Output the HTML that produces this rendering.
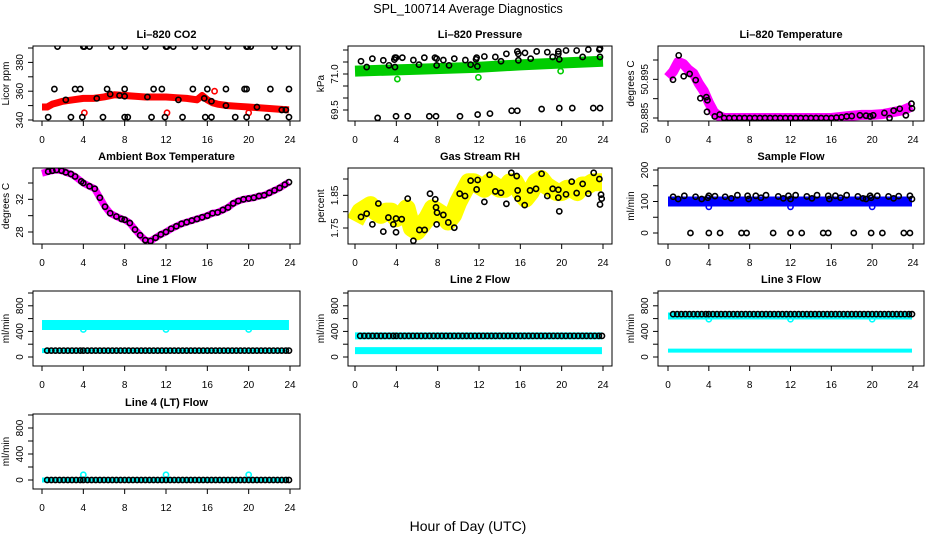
<!DOCTYPE html>
<html><head><meta charset="utf-8"><style>
html,body{margin:0;padding:0;background:#fff}
svg{display:block;font-family:"Liberation Sans",sans-serif}
</style></head><body>
<svg id="chart" width="936" height="540" viewBox="0 0 936 540" xmlns="http://www.w3.org/2000/svg">
<text x="468" y="13" font-size="12.5" text-anchor="middle">SPL_100714  Average Diagnostics</text>
<text x="468" y="531" font-size="14" text-anchor="middle">Hour of Day (UTC)</text>
</svg>
<script>
// ---------- data ----------
const xTicks=[0,4,8,12,16,20,24];
const ringHours=[0.5,0.9,1.3,1.7,2.1,2.5,2.9,3.3,3.7,4.0,4.4,4.8,5.2,5.6,6.0,6.4,6.8,7.2,7.6,8.0,8.4,8.8,9.2,9.6,10.0,10.4,10.8,11.2,11.6,12.0,12.4,12.8,13.2,13.6,14.0,14.4,14.8,15.2,15.6,16.0,16.4,16.8,17.2,17.6,18.0,18.4,18.8,19.2,19.6,20.0,20.4,20.8,21.2,21.6,22.0,22.4,22.8,23.2,23.6,23.9];

// CO2
const co2BandH=[0,0.5,1,1.5,2,3,4,5,6,7,8,9,10,11,12,13,14,15,15.5,16,16.5,17,18,19,20,21,22,23,23.9];
const co2BandV=[349,349,351,352,353,354,355,355,356,357.5,357,356.5,356,356,356,355.5,355,354,357,354,352,351,350,349.5,349,348.5,348,347.5,347];
const co2TopH=[1.5,4,4.1,4.6,6.7,8,10,12,12.1,12.7,14.8,16,18,19.8,19.9,20.2,22.5,23.9];
const co2MidH=[1.2,3.2,3.7,6.3,8,10.8,11.6,14.6,16,17.8,19.6,19.8,22.1,23.9];
const co2LowH=[0.6,2.8,3.9,5.9,8,8.3,10.6,11.9,13.6,15.8,16.4,18.7,19.8,21.8,23.9];
const co2OnH=[2.3,5.3,6.6,7.5,8,10.2,13.2,15.7,16.4,17.8,20.8,23.2,23.6];
const co2OnV=[354,355,358,357,356.5,356,354,355,353,350,349,347,347];
const co2RedH=[4.1,12.1,16.7,20];
const co2RedV=[345,345,360,345];

// Pressure
const presBandH=[0,6,12,16,20,24];
const presBandV=[71.12,71.2,71.28,71.38,71.46,71.53];
const presPtH=[0.58,1.13,1.68,2.74,3.29,3.81,3.87,3.87,3.97,4.58,5.65,6.19,6.71,7.74,7.9,7.9,8.55,9.1,9.61,10.68,11.19,11.71,11.77,11.84,12.52,13.58,14.13,14.65,15.71,15.81,15.81,16.45,17.0,17.58,18.61,19.13,19.68,19.68,19.77,20.42,21.45,22.03,22.58,23.65,23.71,23.71,
 2.19,3.97,5.1,7.19,7.84,10.16,11.87,13.06,15.16,15.71,18.06,19.77,21.03,23.06,23.71];
const presPtV=[71.53,71.29,71.64,71.57,71.36,71.6,71.68,71.29,71.68,71.68,71.58,71.39,71.68,71.68,71.64,71.36,71.58,71.36,71.64,71.58,71.39,71.61,71.68,71.32,71.73,71.71,71.53,71.84,71.94,71.84,71.57,71.88,71.64,71.94,71.91,71.71,71.94,71.84,71.61,71.98,71.98,71.71,72.02,72.02,72.07,71.71,
 69.17,69.24,69.24,69.24,69.24,69.24,69.31,69.35,69.47,69.47,69.54,69.58,69.58,69.58,69.58];
const presGreenH=[4.1,11.94,19.9];
const presGreenV=[70.79,70.86,71.12];

// Li-820 temperature
const tempBandH=[0,0.5,1,1.5,2,2.5,3,3.5,4,4.5,5,5.5,16,17,18,19,20,21,22,23,23.9];
const tempBandV=[50.8955,50.897,50.8995,50.899,50.8975,50.8965,50.894,50.892,50.889,50.8865,50.8855,50.885,50.885,50.8853,50.8856,50.8858,50.8858,50.886,50.8865,50.887,50.888];
const tempPtH=[0.49,1.05,1.54,2.12,2.71,3.17,3.76,3.86,3.82,4.58,5.07,5.5,6,6.5,7,7.5,8,8.5,9,9.5,10,10.5,11,11.5,12,12.5,13,13.5,14,14.5,15,15.5,16,16.5,17,17.5,18,18.8,19.4,19.8,20.1,21.2,21.7,22.1,22.7,23.3,23.85,23.9];
const tempPtV=[50.8949,50.9012,50.8958,50.8964,50.8948,50.8901,50.8904,50.8896,50.8866,50.8854,50.8859,50.885,50.885,50.885,50.885,50.885,50.885,50.885,50.885,50.885,50.885,50.885,50.885,50.885,50.885,50.885,50.885,50.885,50.885,50.885,50.885,50.885,50.885,50.8851,50.8852,50.8854,50.8855,50.8857,50.8856,50.8854,50.8857,50.8863,50.885,50.8869,50.8874,50.8857,50.8887,50.8875];

// Ambient box temperature
const ambH=[0,0.6,1.0,1.4,1.9,2.3,2.8,3.2,3.8,4.0,4.6,5.1,5.6,6.1,6.6,7.2,7.7,8.0,8.5,9.0,9.5,10.0,10.5,11.0,11.5,12.0,12.5,13.0,13.5,14.0,14.5,15.0,15.5,16.0,16.5,17.0,17.5,18.0,18.5,19.0,19.5,20.0,20.5,21.0,21.5,22.0,22.5,23.0,23.5,23.9];
const ambV=[35.2,35.4,35.5,35.6,35.5,35.3,35.1,34.8,34.2,34.0,33.6,33.3,32.2,31.1,30.3,29.9,29.6,29.5,29.1,28.3,27.6,27.0,26.9,27.3,27.7,28.0,28.4,28.7,29.0,29.2,29.4,29.6,29.8,30.0,30.3,30.4,30.7,31.0,31.5,31.8,32.0,32.1,32.2,32.4,32.5,32.8,33.1,33.4,33.8,34.1];

// Gas stream RH
const rhBandH=[0,0.5,1,1.5,2,2.5,3,3.5,4,4.5,5,5.5,6,6.5,7,7.5,8,8.5,9,9.5,10,10.5,11,11.5,12,12.5,13,13.5,14,14.5,15,15.5,16,16.5,17,17.5,18,18.5,19,19.5,20,20.5,21,21.5,22,22.5,23,23.5,23.9];
const rhBandV=[1.77,1.8,1.81,1.82,1.8,1.79,1.8,1.8,1.78,1.79,1.81,1.75,1.74,1.76,1.78,1.81,1.8,1.79,1.77,1.79,1.83,1.86,1.89,1.89,1.88,1.87,1.89,1.88,1.87,1.87,1.89,1.89,1.86,1.84,1.86,1.89,1.9,1.88,1.87,1.86,1.86,1.87,1.87,1.86,1.88,1.88,1.89,1.89,1.89];
const rhPtH=[0.58,1.13,1.68,2.26,2.74,3.23,3.71,3.97,3.97,4.52,5.1,5.65,6.23,6.74,7.26,7.77,7.84,7.94,7.9,8.55,9.03,9.61,10.13,10.65,11.19,11.77,11.87,12.52,13.03,13.58,14.13,14.65,15.13,15.65,15.74,15.74,16.42,16.94,17.52,18.06,18.61,19.13,19.68,19.68,19.77,20.42,20.97,21.45,22.03,22.58,23.1,23.65,23.81,23.71,23.87];
const rhPtV=[1.784,1.794,1.761,1.825,1.739,1.782,1.761,1.779,1.737,1.777,1.84,1.711,1.744,1.744,1.855,1.838,1.813,1.797,1.761,1.79,1.767,1.751,1.855,1.848,1.895,1.868,1.897,1.83,1.913,1.862,1.858,1.824,1.919,1.909,1.865,1.84,1.82,1.865,1.87,1.916,1.848,1.87,1.867,1.843,1.801,1.853,1.892,1.857,1.885,1.855,1.919,1.9,1.852,1.822,1.84];

// Sample flow
const sfTopH=[0.5,1.0,1.6,2.7,3.3,3.9,4.0,4.6,5.6,6.2,6.8,7.8,7.9,8.6,9.1,9.6,10.8,11.3,11.8,12.0,12.5,13.6,14.1,14.6,15.7,15.8,16.4,16.9,17.5,18.6,19.1,19.4,19.8,19.9,20.5,21.6,22.1,22.6,23.7,23.9];
const sfTopV=[115,108,118,115,108,112,118,117,115,110,120,118,108,118,112,120,116,110,118,108,120,116,110,120,118,108,118,112,120,116,110,108,118,112,118,116,110,117,118,108];
const sfZeroH=[2.2,4.0,5.1,7.2,7.7,10.3,12.0,13.1,15.2,15.7,18.2,19.9,21.0,23.1,23.7];
const sfBlueH=[4,12,20];
const sfBlueV=[83,83,83];

// Line flows (cyan band levels and black ring level)
const l1BandV=[500,100];  const l1RingV=100; const l1OutV=430;
const l2BandV=[330,100];  const l2RingV=330; const l2OutV=330;
const l3BandV=[640,100];  const l3RingV=670; const l3OutV=590;
const l4BandV=[0,0];      const l4RingV=0;   const l4OutV=80;
const outH=[4,12,20];

// ---------- drawing ----------
const NS='http://www.w3.org/2000/svg';
const svg=document.getElementById('chart');
function mk(tag,attrs,parent){const e=document.createElementNS(NS,tag);for(const k in attrs)e.setAttribute(k,attrs[k]);(parent||svg).appendChild(e);return e;}

function panel(cfg){
  const g=mk('g',{});
  
  
  const sx=h=>cfg.x0+(h-0)*(cfg.x24-cfg.x0)/24;
  const sy=v=>cfg.p1+(v-cfg.v1)*(cfg.p2-cfg.p1)/(cfg.v2-cfg.v1);
  const clipId='clip-'+cfg.name;
  const cp=mk('clipPath',{id:clipId},g);
  mk('rect',{x:cfg.l,y:cfg.t,width:cfg.r-cfg.l,height:cfg.b-cfg.t},cp);
  const plot=mk('g',{'clip-path':'url(#'+clipId+')'},g);
  
  
  const t=mk('text',{x:(cfg.l+cfg.r)/2,y:cfg.t-8,'font-size':11,'font-weight':'bold','text-anchor':'middle'},g);
  
  
  t.textContent=cfg.title;
  const bx=mk('rect',{x:cfg.l,y:cfg.t,width:cfg.r-cfg.l,height:cfg.b-cfg.t,fill:'none',stroke:'#000','stroke-width':1},g);
  
  
  const xa=mk('g',{},g);
  
  
  mk('line',{x1:sx(xTicks[0]),x2:sx(xTicks[xTicks.length-1]),y1:cfg.b,y2:cfg.b,stroke:'#000'},xa);
  xTicks.forEach(h=>{
    mk('line',{x1:sx(h),x2:sx(h),y1:cfg.b,y2:cfg.b+5,stroke:'#000'},xa);
    const tx=mk('text',{x:sx(h),y:cfg.b+22,'font-size':10,'text-anchor':'middle'},xa);
    
    
    tx.textContent=h;
  });
  const ya=mk('g',{},g);
  
  
  const tv=cfg.ticks;
  mk('line',{x1:cfg.l,x2:cfg.l,y1:sy(tv[0]),y2:sy(tv[tv.length-1]),stroke:'#000'},ya);
  tv.forEach(v=>mk('line',{x1:cfg.l-5,x2:cfg.l,y1:sy(v),y2:sy(v),stroke:'#000'},ya));
  cfg.labels.forEach(v=>{
    const x=cfg.l-10, y=sy(v);
    const tx=mk('text',{x:x,y:y,'font-size':10,'text-anchor':'middle',transform:`rotate(-90 ${x} ${y})`},ya);
    
    
    tx.textContent=cfg.fmt?cfg.fmt(v):v;
  });
  const yx=cfg.l-24, yy=(cfg.t+cfg.b)/2;
  const yl=mk('text',{x:yx,y:yy,'font-size':10,'text-anchor':'middle',transform:`rotate(-90 ${yx} ${yy})`},g);
  
  
  yl.textContent=cfg.ylab;
  return {plot,sx,sy};
}
function band(P,hs,vs,color,w,name){
  const pl=mk('polyline',{points:hs.map((h,i)=>P.sx(h)+','+P.sy(vs[i])).join(' '),fill:'none',stroke:color,'stroke-width':w,'stroke-linejoin':'round','stroke-linecap':'butt'},P.plot);
  
  
}
function pts(P,hs,vs,color,name){
  const g=mk('g',{},P.plot);
  
  
  hs.forEach((h,i)=>{
    const v=Array.isArray(vs)?vs[i]:vs;
    mk('circle',{cx:P.sx(h),cy:P.sy(v),r:2.6,fill:'none',stroke:color,'stroke-width':1.6},g);
  });
}
const C1={l:33,r:300,x0:42,x24:290}, C2={l:348,r:612,x0:355,x24:603}, C3={l:658,r:924,x0:668,x24:913};
const R1={t:46,b:121},R2={t:168,b:244},R3={t:291,b:366},R4={t:414,b:489};
const flowAx={v1:0,v2:1000,ticks:[0,200,400,600,800,1000],labels:[0,400,800],ylab:'ml/min'};

let P=panel({...C1,...R1,name:'co2-panel',title:'Li\u2013820 CO2',v1:340,v2:390,p1:120,p2:48,ticks:[340,350,360,370,380,390],labels:[340,360,380],ylab:'Licor ppm'});
band(P,co2BandH,co2BandV,'#ff0000',7,'co2-band');
pts(P,co2RedH,co2RedV,'#ff0000','co2-red-points');
pts(P,co2TopH,391,'#000','co2-high-points');
pts(P,co2MidH,361.5,'#000','co2-mid-points');
pts(P,co2LowH,342,'#000','co2-low-points');
pts(P,co2OnH,co2OnV,'#000','co2-avg-points');

P=panel({...C2,...R1,name:'pressure-panel',title:'Li\u2013820 Pressure',v1:69.5,v2:72.0,p1:110,p2:50,ticks:[69.5,70,70.5,71,71.5,72],labels:[69.5,71.0],fmt:v=>v.toFixed(1),ylab:'kPa'});
band(P,presBandH,presBandV,'#00cc00',11,'pressure-band');
pts(P,presGreenH,presGreenV,'#00cc00','pressure-green-points');
pts(P,presPtH,presPtV,'#000','pressure-avg-points');

P=panel({...C3,...R1,name:'li820-temp-panel',title:'Li\u2013820 Temperature',v1:50.885,v2:50.900,p1:118,p2:60,ticks:[50.885,50.89,50.895,50.9],labels:[50.885,50.895],fmt:v=>v.toFixed(3),ylab:'degrees C'});
band(P,tempBandH,tempBandV,'#ff00ff',10,'li820-temp-band');
pts(P,tempPtH,tempPtV,'#000','li820-temp-points');

P=panel({...C1,...R2,name:'ambient-temp-panel',title:'Ambient Box Temperature',v1:28,v2:34,p1:232,p2:183,ticks:[28,30,32,34],labels:[28,32],ylab:'degrees C'});
band(P,ambH,ambV,'#ff00ff',7,'ambient-temp-band');
pts(P,ambH.slice(1),ambV.slice(1),'#000','ambient-temp-points');

P=panel({...C2,...R2,name:'rh-panel',title:'Gas Stream RH',v1:1.75,v2:1.90,p1:228,p2:179,ticks:[1.75,1.8,1.85,1.9],labels:[1.75,1.85],fmt:v=>v.toFixed(2),ylab:'percent'});
band(P,rhBandH,rhBandV,'#ffff00',18,'rh-band');
pts(P,rhPtH,rhPtV,'#000','rh-points');

P=panel({...C3,...R2,name:'sample-flow-panel',title:'Sample Flow',v1:0,v2:200,p1:233,p2:170,ticks:[0,50,100,150,200],labels:[0,100,200],ylab:'ml/min'});
band(P,[0,23.9],[100,100],'#0000ff',10,'sample-flow-band');
pts(P,sfBlueH,sfBlueV,'#0000ff','sample-flow-blue-points');
pts(P,sfTopH,sfTopV,'#000','sample-flow-points');
pts(P,sfZeroH,0,'#000','sample-flow-zero-points');

function flowPanel(col,row,name,title,bandV,ringV,outV,yz,yt,bw){
  const Q=panel({...col,...row,...flowAx,name:name,title:title,p1:yz,p2:yt});
  band(Q,[0,23.9],[bandV[0],bandV[0]],'#00ffff',bw[0],name+'-band-main');
  band(Q,[0,23.9],[bandV[1],bandV[1]],'#00ffff',bw[1],name+'-band-low');
  pts(Q,outH,outV,'#00ffff',name+'-cyan-points');
  pts(Q,ringHours,ringV,'#000',name+'-avg-points');
}
flowPanel(C1,R3,'line1-flow-panel','Line 1 Flow',l1BandV,l1RingV,l1OutV,357,293,[10,5]);
flowPanel(C2,R3,'line2-flow-panel','Line 2 Flow',l2BandV,l2RingV,l2OutV,357,293,[7,7]);
flowPanel(C3,R3,'line3-flow-panel','Line 3 Flow',l3BandV,l3RingV,l3OutV,357,293,[7,4]);
flowPanel(C1,R4,'line4-flow-panel','Line 4 (LT) Flow',l4BandV,l4RingV,l4OutV,480,415,[5,5]);
</script>
</body></html>
